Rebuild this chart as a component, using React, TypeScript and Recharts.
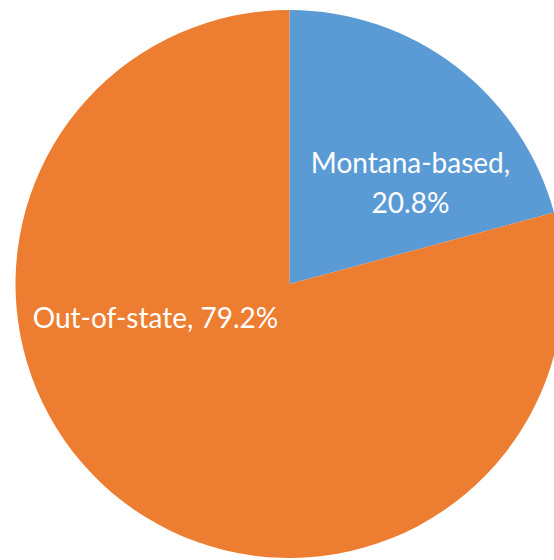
import { PieChart, Pie, Cell } from 'recharts';

const categories = ['Montana-based', 'Out-of-state'];
const shares = [20.8, 79.2];
const colors = ['#5B9BD5', '#ED7D31'];

const data = categories.map((name, i) => ({ name, value: shares[i] }));

// Excel "best fit" label spots, relative to the pie centre
const labelSpots = [
  { dx: 121, dy: -98, split: true },
  { dx: -134, dy: 37, split: false },
];

function renderLabel({ cx, cy, index }: any) {
  const spot = labelSpots[index];
  const d = data[index];
  const x = cx + spot.dx;
  const y = cy + spot.dy;
  const style = { fill: '#ffffff', fontSize: 28, fontFamily: 'Lato, sans-serif' };
  if (spot.split) {
    return (
      <text x={x} y={y} textAnchor="middle" dominantBaseline="middle" {...style}>
        <tspan x={x} dy={-20}>{d.name},</tspan>
        <tspan x={x} dy={40}>{d.value}%</tspan>
      </text>
    );
  }
  return (
    <text x={x} y={y} textAnchor="middle" dominantBaseline="middle" {...style}>
      {d.name}, {d.value}%
    </text>
  );
}

export default function App() {
  return (
    <div style={{ position: 'absolute', left: 0, top: 0, width: 554, height: 560, background: '#fff' }}>
      <PieChart width={554} height={560} margin={{ top: 0, right: 0, bottom: 0, left: 0 }}>
        <Pie
          data={data}
          dataKey="value"
          nameKey="name"
          cx={289.5}
          cy={284}
          outerRadius={274}
          startAngle={90}
          endAngle={-270}
          stroke="none"
          label={renderLabel}
          labelLine={false}
          isAnimationActive={false}
        >
          {data.map((d, i) => (
            <Cell key={d.name} fill={colors[i]} />
          ))}
        </Pie>
      </PieChart>
    </div>
  );
}
